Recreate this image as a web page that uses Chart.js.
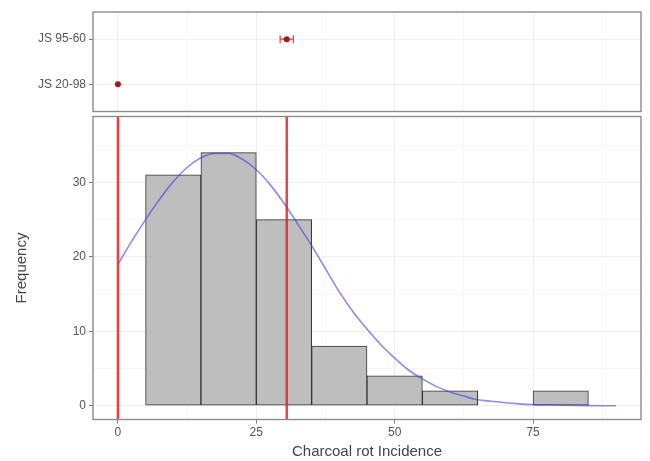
<!DOCTYPE html>
<html>
<head>
<meta charset="utf-8">
<script src="https://cdn.jsdelivr.net/npm/chart.js@4.4.1/dist/chart.umd.min.js"></script>
<style>
  html, body { margin: 0; padding: 0; background: #fff; }
  #wrap { position: relative; width: 650px; height: 461px; }
  #wrap canvas { position: absolute; left: 0; top: 0; }
</style>
</head>
<body>
<div id="wrap">
  <canvas id="topPanel" width="650" height="461"></canvas>
  <canvas id="histPanel" width="650" height="461"></canvas>
</div>
<script>
// Histogram bins of charcoal rot incidence
const binStarts = [5, 15, 25, 35, 45, 55, 65, 75];
const binWidth = 10;
const binCounts = [31, 34, 25, 8, 4, 2, 0, 2];

// Fitted density curve, scaled to counts
const curveX = [0, 2.5, 5, 7.5, 10, 12.5, 15, 17.5, 20, 22.5, 25, 27.5, 30, 32.5, 35, 37.5, 40, 42.5, 45, 47.5, 50, 52.5, 55, 57.5, 60, 62.5, 65, 67.5, 70, 72.5, 75, 77.5, 80, 85, 90];
const curveY = [19.0, 22.1, 25.0, 27.7, 30.1, 32.0, 33.3, 33.9, 33.9, 33.1, 31.7, 29.7, 27.2, 24.4, 21.5, 18.4, 15.3, 12.6, 10.3, 8.2, 6.4, 4.8, 3.6, 2.6, 1.85, 1.3, 0.8, 0.6, 0.4, 0.25, 0.15, 0.1, 0.06, 0.02, 0.0];

// Check genotypes: mean incidence with interval
const genotypes = ['JS 20-98', 'JS 95-60'];
const genoMean = [0, 30.5];
const genoLow = [0, 29.3];
const genoHigh = [0, 31.7];

// Axis ticks
const xTicks = [0, 25, 50, 75];
const xGrid = [0, 12.5, 25, 37.5, 50, 62.5, 75, 87.5];
const yTicks = [0, 10, 20, 30];
const yGrid = [0, 5, 10, 15, 20, 25, 30, 35];

Chart.defaults.font.family = "'Liberation Sans', Arial, sans-serif";
Chart.defaults.animation = false;

const X_MIN = -4.5, X_MAX = 94.5;
const AXIS_W = 93, RIGHT_PAD = 9;
const GRID_MAJOR = '#efefef', GRID_MINOR = '#f7f7f7';
const TICK_COLOR = '#7a7a7a', LABEL_COLOR = '#555555', TITLE_COLOR = '#444444';

const panelBorder = {
  id: 'panelBorder',
  afterDraw(chart) {
    const { ctx, chartArea: a } = chart;
    ctx.save();
    ctx.strokeStyle = '#8c8c8c';
    ctx.lineWidth = 1.4;
    ctx.strokeRect(a.left, a.top, a.right - a.left, a.bottom - a.top);
    ctx.restore();
  }
};

// Horizontal interval bars with end caps, drawn under the mean points
const errorBars = {
  id: 'errorBars',
  beforeDatasetsDraw(chart) {
    const xs = chart.scales.x, ys = chart.scales.y, ctx = chart.ctx;
    ctx.save();
    ctx.strokeStyle = '#f03a3a';
    ctx.lineWidth = 1.2;
    genotypes.forEach((g, i) => {
      if (genoHigh[i] <= genoLow[i]) return;
      const py = ys.getPixelForValue(i + 1);
      const x0 = xs.getPixelForValue(genoLow[i]);
      const x1 = xs.getPixelForValue(genoHigh[i]);
      ctx.beginPath();
      ctx.moveTo(x0, py); ctx.lineTo(x1, py);
      ctx.moveTo(x0, py - 4); ctx.lineTo(x0, py + 4);
      ctx.moveTo(x1, py - 4); ctx.lineTo(x1, py + 4);
      ctx.stroke();
    });
    ctx.restore();
  }
};

const isMajorX = v => xTicks.includes(v);
const isMajorY = v => yTicks.includes(v);

// Top panel: genotype means
new Chart(document.getElementById('topPanel'), {
  type: 'scatter',
  data: {
    datasets: [{
      data: genoMean.map((m, i) => ({ x: m, y: i + 1 })),
      pointRadius: 3,
      pointBackgroundColor: '#a01a1a',
      pointBorderWidth: 0
    }]
  },
  options: {
    responsive: false,
    layout: { padding: { top: 12, right: RIGHT_PAD, bottom: 461 - 111.5, left: 0 } },
    plugins: { legend: { display: false }, tooltip: { enabled: false } },
    scales: {
      x: {
        type: 'linear', min: X_MIN, max: X_MAX,
        afterBuildTicks: s => { s.ticks = xGrid.map(v => ({ value: v })); },
        ticks: { display: false },
        grid: { color: c => isMajorX(c.tick.value) ? GRID_MAJOR : GRID_MINOR, drawTicks: false },
        border: { display: false },
        afterFit: s => { s.height = 0; }
      },
      y: {
        type: 'linear', min: 0.4, max: 2.6,
        afterBuildTicks: s => { s.ticks = [1, 2].map(v => ({ value: v })); },
        ticks: {
          callback: v => genotypes[v - 1],
          color: LABEL_COLOR, font: { size: 12 }, padding: 3
        },
        grid: { color: GRID_MAJOR, tickColor: TICK_COLOR, tickLength: 4 },
        border: { display: false },
        afterFit: s => { s.width = AXIS_W; }
      }
    }
  },
  plugins: [errorBars, panelBorder]
});

// Bottom panel: histogram with density curve and mean lines
const meanLines = genoMean.map(m => ({
  type: 'line',
  data: [{ x: m, y: -1.85 }, { x: m, y: 38.85 }],
  borderColor: 'rgba(236, 30, 40, 0.85)',
  borderWidth: 2.5,
  pointRadius: 0,
  order: 1
}));

new Chart(document.getElementById('histPanel'), {
  type: 'bar',
  data: {
    datasets: [
      {
        type: 'bar',
        data: binStarts.map((s, i) => ({ x: s + binWidth / 2, y: binCounts[i] })),
        backgroundColor: '#bebebe',
        borderColor: '#333333',
        borderWidth: 1,
        borderSkipped: false,
        barPercentage: 1,
        categoryPercentage: 1,
        order: 3
      },
      {
        type: 'line',
        data: curveX.map((x, i) => ({ x: x, y: curveY[i] })),
        borderColor: 'rgba(70, 70, 220, 0.62)',
        borderWidth: 1.6,
        pointRadius: 0,
        cubicInterpolationMode: 'monotone',
        order: 2
      },
      ...meanLines
    ]
  },
  options: {
    responsive: false,
    layout: { padding: { top: 116.5, right: RIGHT_PAD, bottom: 0, left: 0 } },
    plugins: { legend: { display: false }, tooltip: { enabled: false } },
    scales: {
      x: {
        type: 'linear', min: X_MIN, max: X_MAX, offset: false,
        afterBuildTicks: s => { s.ticks = xGrid.map(v => ({ value: v })); },
        ticks: {
          callback: v => isMajorX(v) ? String(v) : '',
          color: LABEL_COLOR, font: { size: 12 }, padding: 2.3,
          maxRotation: 0, autoSkip: false
        },
        grid: {
          offset: false,
          color: c => isMajorX(c.tick.value) ? GRID_MAJOR : GRID_MINOR,
          tickColor: c => isMajorX(c.tick.value) ? TICK_COLOR : 'rgba(0,0,0,0)',
          tickLength: 4
        },
        border: { display: false },
        title: {
          display: true, text: 'Charcoal rot Incidence',
          color: TITLE_COLOR, font: { size: 15 }, padding: { top: 0.3, bottom: 0 }
        },
        afterFit: s => { s.height = 41.5; }
      },
      y: {
        type: 'linear', min: -1.85, max: 38.85,
        afterBuildTicks: s => { s.ticks = yGrid.map(v => ({ value: v })); },
        ticks: {
          callback: v => isMajorY(v) ? String(v) : '',
          color: LABEL_COLOR, font: { size: 12 }, padding: 3, autoSkip: false
        },
        grid: {
          color: c => isMajorY(c.tick.value) ? GRID_MAJOR : GRID_MINOR,
          tickColor: c => isMajorY(c.tick.value) ? TICK_COLOR : 'rgba(0,0,0,0)',
          tickLength: 4
        },
        border: { display: false },
        title: {
          display: true, text: 'Frequency',
          color: TITLE_COLOR, font: { size: 15 }, padding: { top: 13, bottom: 0 }
        },
        afterFit: s => { s.width = AXIS_W; }
      }
    }
  },
  plugins: [panelBorder]
});
</script>
</body>
</html>
